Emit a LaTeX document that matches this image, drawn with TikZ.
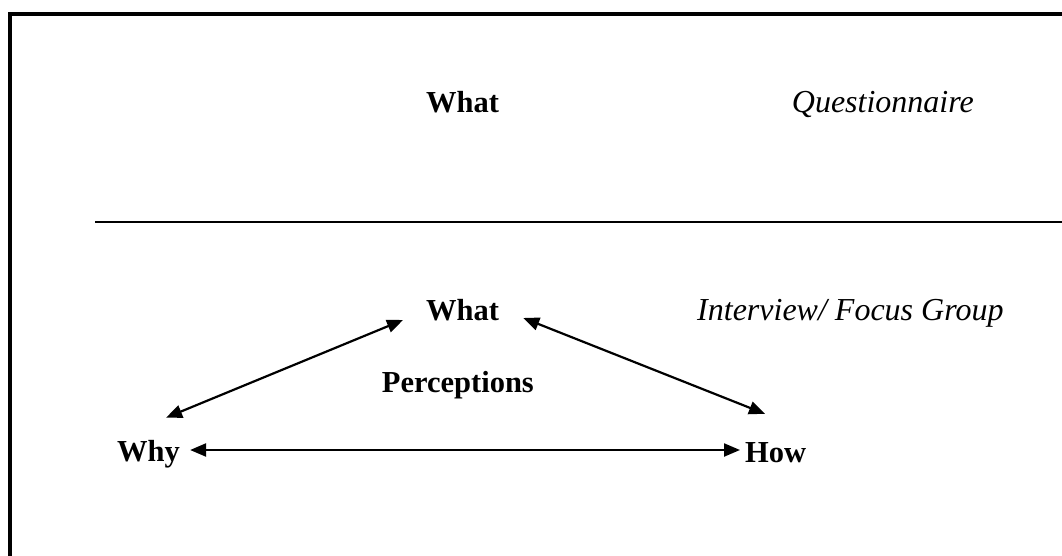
\documentclass[tikz,border=0pt]{standalone}
\usepackage{fontspec}
\setmainfont{Liberation Serif}
\usetikzlibrary{arrows.meta}
\begin{document}
\begin{tikzpicture}[x=1pt,y=-1pt,
  lbl/.style={inner sep=0pt,font=\fontsize{30.5pt}{36pt}\selectfont\bfseries},
  ilbl/.style={inner sep=0pt,font=\fontsize{32pt}{38pt}\selectfont\itshape},
  arr/.style={line width=2.2pt,{Triangle[length=16pt,width=13pt]}-{Triangle[length=16pt,width=13pt]}}]
\useasboundingbox (0,0) rectangle (1062,556);
% frame
\draw[line width=4pt] (10,556) -- (10,14) -- (1062,14);
% separator
\draw[line width=1.5pt] (95,222) -- (1062,222);
% labels
\node[lbl,anchor=base west] (what1) at (426,113) {What};
\node[ilbl,anchor=base east] (quest) at (974,113) {Questionnaire};
\node[lbl,anchor=base west] (what2) at (426,320) {What};
\node[ilbl,anchor=base west] (interview) at (697,320) {Interview/ Focus Group};
\node[lbl,anchor=base east] (perc) at (534,392) {Perceptions};
\node[lbl,anchor=base west] (why) at (117,461) {Why};
\node[lbl,anchor=base west] (how) at (745,462) {How};
% arrows
\draw[arr] ([xshift=-23pt]what2.base west) -- ([shift={(-14pt,22pt)}]why.north east);
\draw[arr] ([shift={(24pt,2pt)}]what2.base east) -- ([shift={(20pt,28pt)}]how.north west);
\draw[arr] ([shift={(10pt,11pt)}]why.base east) -- ([shift={(-5pt,12pt)}]how.base west);
\end{tikzpicture}
\end{document}
